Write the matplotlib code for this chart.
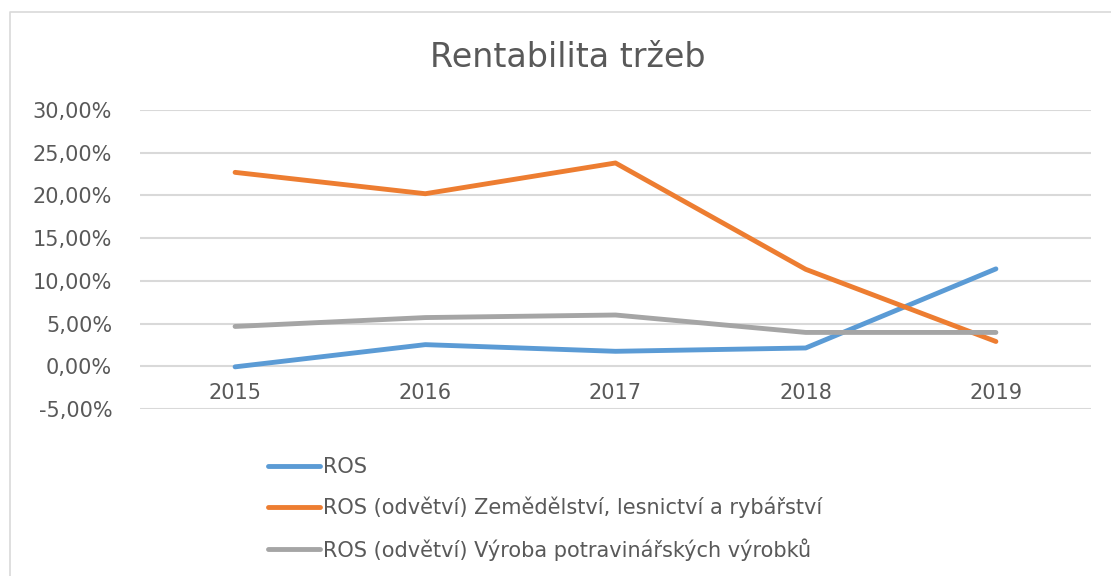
"""Rentabilita tržeb: ROS firmy vs. odvětví, 2015-2019."""

import matplotlib

matplotlib.use("Agg")
import matplotlib.pyplot as plt
from matplotlib.lines import Line2D
from matplotlib.ticker import FuncFormatter

years = ["2015", "2016", "2017", "2018", "2019"]
ros = [-0.07, 2.53, 1.75, 2.14, 11.4]
ros_zemedelstvi = [22.7, 20.2, 23.8, 11.35, 2.9]
ros_potraviny = [4.66, 5.7, 6.0, 3.96, 3.96]

labels = [
    "ROS",
    "ROS (odvětví) Zemědělství, lesnictví a rybářství",
    "ROS (odvětví) Výroba potravinářských výrobků",
]
colors = ["#5b9bd5", "#ed7d31", "#a5a5a5"]
TEXT = "#595959"

plt.rcParams["font.family"] = ["DejaVu Sans"]

fig = plt.figure(figsize=(11.11, 5.76), dpi=100)
ax = fig.add_axes([0.126, 0.29, 0.856, 0.519])

x = range(len(years))
for series, color, label in zip([ros, ros_zemedelstvi, ros_potraviny], colors, labels):
    ax.plot(x, series, color=color, lw=3.5, label=label, solid_capstyle="round")

ax.set_xlim(-0.5, len(years) - 0.5)
ax.set_ylim(-5, 30)
ax.set_yticks(range(-5, 31, 5))
ax.yaxis.set_major_formatter(FuncFormatter(lambda v, _: f"{v:.2f}%".replace(".", ",")))
ax.set_xticks(list(x))
ax.set_xticklabels(years)
ax.grid(axis="y", color="#d9d9d9", lw=1.5)
ax.set_axisbelow(True)
for s in ax.spines.values():
    s.set_visible(False)
ax.tick_params(length=0, colors=TEXT, labelsize=15)
ax.tick_params(axis="x", pad=-19)
ax.tick_params(axis="y", pad=20)

fig.text(0.511, 0.9, "Rentabilita tržeb", ha="center", va="center",
         fontsize=24, color=TEXT)

fig.legend(loc="upper left", bbox_to_anchor=(0.234, 0.221), frameon=False,
           fontsize=15, labelcolor=TEXT, handlelength=2.5, handletextpad=0.12,
           labelspacing=0.95, borderaxespad=0)

# chart frame: only the top and left edges fall inside the picture
fig.lines.append(Line2D([0.009, 0.009, 1.0], [0.0, 0.979, 0.979],
                        transform=fig.transFigure, color="#d9d9d9", lw=1.2))

fig.savefig("out.png")
